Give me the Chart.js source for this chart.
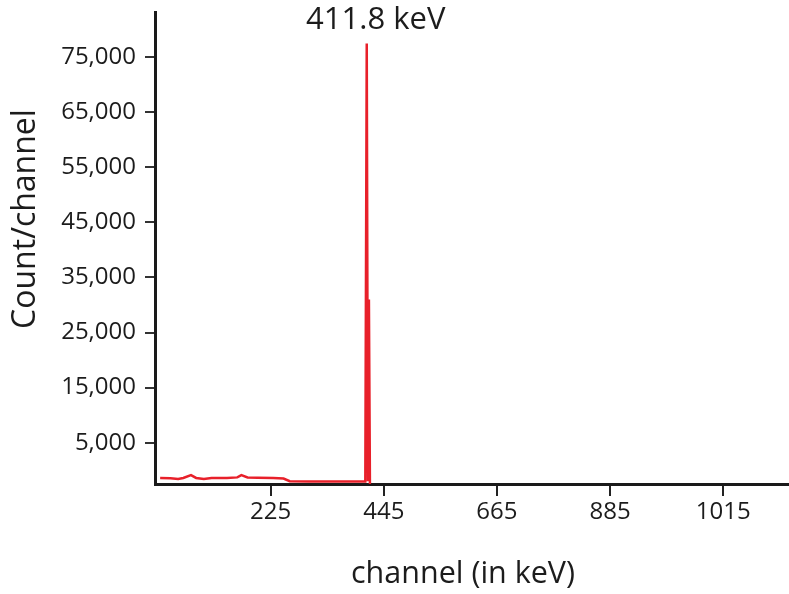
<!DOCTYPE html>
<html lang="en">
<head>
    <meta charset="UTF-8">
    <title>Spectrum 411.8 keV</title>
    <script src="https://cdn.jsdelivr.net/npm/chart.js@4.4.1/dist/chart.umd.min.js"></script>
    <style>
        body {
            margin: 0;
            background: #ffffff;
        }
        .wrap {
            width: 789px;
            height: 594px;
        }
    </style>
</head>
<body>
    <div class="wrap">
        <canvas id="spectrum" width="789" height="594"></canvas>
    </div>

    <script>
        // channel energy (keV) and counts per channel
        const energyKeV = [10, 30, 45, 55, 70, 80, 95, 110, 140, 160, 168, 180, 200, 230, 250, 262, 300, 350, 405, 409, 411.8, 414, 416, 418, 420];
        const counts = [-1400, -1450, -1600, -1400, -900, -1400, -1600, -1400, -1400, -1300, -900, -1300, -1350, -1400, -1500, -2000, -2050, -2050, -2050, -2050, 77500, -2000, 31000, -2400, -2450];

        const peakLabel = '411.8 keV';
        const peakEnergy = 411.8;

        const yTickValues = [5000, 15000, 25000, 35000, 45000, 55000, 65000, 75000];
        const xTickValues = [225, 445, 665, 885, 1105];
        const xTickLabels = ['225', '445', '665', '885', '1015'];

        const FONT = '"Open Sans", "DejaVu Sans", sans-serif';
        const INK = '#1c1c1c';

        const titlesPlugin = {
            id: 'titles',
            afterDraw(chart) {
                const ctx = chart.ctx;
                const x = chart.scales.x;
                ctx.save();
                ctx.fillStyle = INK;
                ctx.textAlign = 'center';
                ctx.textBaseline = 'middle';

                // peak annotation
                ctx.font = '31px ' + FONT;
                ctx.fillText(peakLabel, x.getPixelForValue(peakEnergy) + 9, 20);

                // x axis title
                ctx.font = '30.5px ' + FONT;
                ctx.fillText('channel (in keV)', 463, 574);

                // y axis title
                ctx.font = '32px ' + FONT;
                ctx.translate(26, 219);
                ctx.rotate(-Math.PI / 2);
                ctx.fillText('Count/channel', 0, 0);
                ctx.restore();
            }
        };

        const chart = new Chart(document.getElementById('spectrum'), {
            type: 'line',
            data: {
                datasets: [{
                    data: energyKeV.map((e, i) => ({ x: e, y: counts[i] })),
                    borderColor: '#e8202a',
                    borderWidth: 2.5,
                    pointRadius: 0,
                    tension: 0,
                    fill: false
                }]
            },
            options: {
                responsive: false,
                animation: false,
                layout: { padding: { top: 12, left: 0, right: 0, bottom: 0 } },
                plugins: {
                    legend: { display: false },
                    tooltip: { enabled: false }
                },
                scales: {
                    x: {
                        type: 'linear',
                        min: 0,
                        max: 1233,
                        afterFit(scale) {
                            scale.height = 110;
                            scale.paddingLeft = 0;
                            scale.paddingRight = 0;
                        },
                        afterBuildTicks(scale) {
                            scale.ticks = xTickValues.map(v => ({ value: v }));
                        },
                        ticks: {
                            color: INK,
                            font: { family: FONT, size: 24 },
                            padding: 2,
                            maxRotation: 0,
                            autoSkip: false,
                            callback: (v) => xTickLabels[xTickValues.indexOf(v)]
                        },
                        grid: {
                            drawOnChartArea: false,
                            drawTicks: true,
                            tickLength: 12,
                            color: '#222',
                            lineWidth: 2
                        },
                        border: { display: true, color: '#1a1a1a', width: 3 }
                    },
                    y: {
                        min: -2500,
                        max: 83200,
                        afterFit(scale) {
                            scale.width = 155;
                            scale.paddingTop = 0;
                            scale.paddingBottom = 0;
                        },
                        afterBuildTicks(scale) {
                            scale.ticks = yTickValues.map(v => ({ value: v }));
                        },
                        ticks: {
                            color: INK,
                            font: { family: FONT, size: 24 },
                            padding: 9,
                            autoSkip: false,
                            callback: (v) => v.toLocaleString('en-US')
                        },
                        grid: {
                            drawOnChartArea: false,
                            drawTicks: true,
                            tickLength: 10,
                            color: '#333',
                            lineWidth: 2
                        },
                        border: { display: true, color: '#1a1a1a', width: 3 }
                    }
                }
            },
            plugins: [titlesPlugin]
        });
    </script>
</body>
</html>
